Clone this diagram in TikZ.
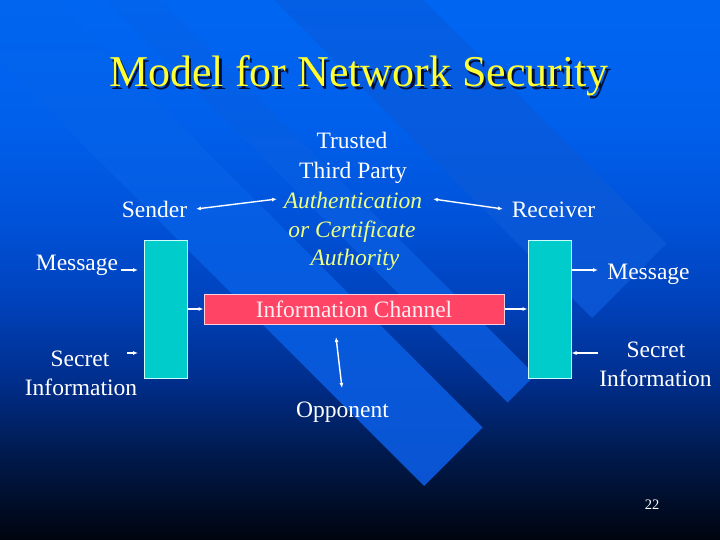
\documentclass[tikz,border=0pt]{standalone}
\usepackage{fontspec}
\setmainfont{Liberation Serif}
\usetikzlibrary{arrows.meta,calc}
\definecolor{bg0}{HTML}{00040E}
\definecolor{bg1}{HTML}{001848}
\definecolor{bg2}{HTML}{002E8C}
\definecolor{bg3}{HTML}{0042BC}
\definecolor{bg4}{HTML}{0052D8}
\definecolor{bg5}{HTML}{0060EC}
\definecolor{bg6}{HTML}{0066F2}
\definecolor{bandtop}{HTML}{0066F2}
\definecolor{bandbot}{HTML}{0A54D2}
\definecolor{ttl}{HTML}{FFFF33}
\definecolor{ttlsh}{HTML}{001038}
\definecolor{ital}{HTML}{EEFF88}
\definecolor{boxcol}{HTML}{00CCCC}
\definecolor{boxline}{HTML}{CCFFFF}
\definecolor{chancol}{HTML}{FF4466}
\definecolor{chanline}{HTML}{FFD0DA}
\definecolor{chantxt}{HTML}{FFEEF2}
\pgfdeclareverticalshading{bgsh}{100bp}{color(0bp)=(bg0); color(25bp)=(bg0); color(32.4bp)=(bg1); color(39.8bp)=(bg2); color(47.2bp)=(bg3); color(54.6bp)=(bg4); color(63.9bp)=(bg5); color(75bp)=(bg6); color(100bp)=(bg6)}
\tikzset{
  txt/.style={text=white, font=\fontsize{23.5}{28}\selectfont, inner sep=0pt, anchor=base},
  itx/.style={text=ital, font=\fontsize{23.5}{28}\selectfont\itshape, inner sep=0pt, anchor=base},
  pg/.style={text=white, font=\fontsize{14.5}{16}\selectfont, inner sep=0pt, anchor=base},
  ttlfont/.style={font=\fontsize{44}{50}\selectfont, inner sep=0pt, anchor=base},
  boxst/.style={draw=boxline, fill=boxcol, line width=1pt, inner sep=0pt, minimum width=43pt, minimum height=138pt},
  chanst/.style={draw=chanline, fill=chancol, line width=1pt, inner sep=0pt, minimum width=300pt, minimum height=30pt, text=chantxt, font=\fontsize{23.5}{28}\selectfont},
  conn/.style={draw=white, line width=1.4pt, -{Latex[length=5pt,width=4pt]}},
  conn2/.style={draw=white, line width=1.4pt, {Latex[length=5pt,width=4pt]}-{Latex[length=5pt,width=4pt]}},
  band/.style={top color=bandtop, bottom color=bandbot}
}
\begin{document}
\begin{tikzpicture}[x=1pt,y=-1pt]
\useasboundingbox (0,0) rectangle (720,540);
\shade[shading=bgsh] (0,0) rectangle (720,540);
\begin{scope}
\clip (0,0) rectangle (720,540);
\path[band] (-31,31) -- (27.5,-27.5) -- (482.5,427.5) -- (424,486) -- cycle;
\path[band] (52.5,-52.5) -- (80,-80) -- (535,375) -- (507.5,402.5) -- cycle;
\path[band] (137,-137) -- (211.5,-211.5) -- (666.5,243.5) -- (592,318) -- cycle;
\end{scope}
% title
\node[ttlfont, text=ttlsh] (titlesh) at (361.5,89.5) {Model for Network Security};
\node[ttlfont, text=ttl] (title) at (359,87) {Model for Network Security};
% texts
\node[txt] (sender) at (154.5,218) {Sender};
\node[txt] (receiver) at (553.5,218) {Receiver};
\node[txt] (ttp1) at (352,149) {Trusted};
\node[txt] (ttp2) at (353,179) {Third Party};
\node[itx] (auth1) at (353,208) {Authentication};
\node[itx] (auth2) at (352,237) {or Certificate};
\node[itx] (auth3) at (355,265) {Authority};
\node[txt] (msgL) at (77,270) {Message};
\node[txt] (msgR) at (648.5,279) {Message};
\node[txt] (secL1) at (80,366) {Secret};
\node[txt] (secL2) at (81,395) {Information};
\node[txt] (secR1) at (656,357) {Secret};
\node[txt] (secR2) at (655.5,386) {Information};
\node[txt] (opp) at (342.5,417) {Opponent};
\node[pg] (pgnum) at (652,509) {22};
% boxes
\node[boxst] (boxL) at (165.5,309) {};
\node[boxst] (boxR) at (549.5,309) {};
\node[chanst] (chan) at (354,309) {Information Channel};
% connector end points
\coordinate (sA) at (196,209);
\coordinate (aA) at (277,199);
\coordinate (aB) at (433,199);
\coordinate (rB) at (503,209);
\coordinate (mL) at (121,270);
\coordinate (mLt) at (138,270);
\coordinate (sL) at (127,353);
\coordinate (sLt) at (138,353);
\coordinate (mR) at (598,270);
\coordinate (sR) at (598,353);
\coordinate (oT) at (336,337);
\coordinate (oB) at (342,388);
% connectors
\draw[conn2] (sA) -- (aA);
\draw[conn2] (aB) -- (rB);
\draw[conn] (mL) -- (mLt);
\draw[conn] (sL) -- (sLt);
\draw[conn] (boxL.east |- chan.west) -- (chan.west);
\draw[conn] (chan.east) -- (boxR.west |- chan.east);
\draw[conn] (boxR.east |- mR) -- (mR);
\draw[conn] (sR) -- (boxR.east |- sR);
\draw[conn2] (oT) -- (oB);
\end{tikzpicture}
\end{document}
